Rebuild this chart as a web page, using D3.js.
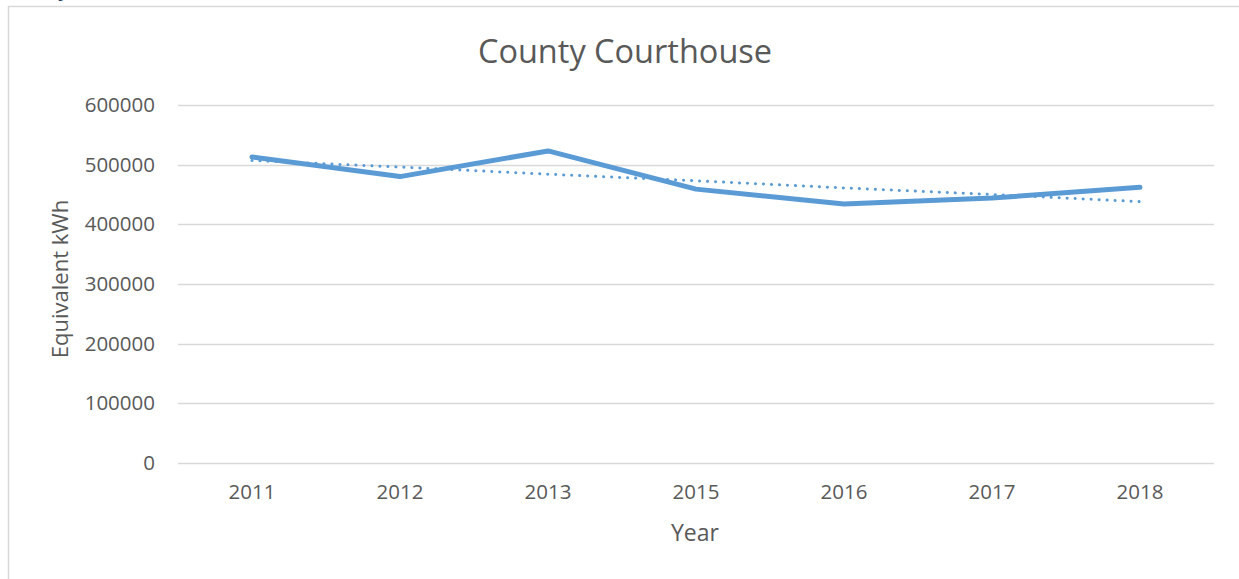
<html>
<head>
<meta charset="utf-8">
<title>County Courthouse</title>
<script src="https://cdn.jsdelivr.net/npm/d3@7"></script>
<style>
  body { margin: 0; background: #fff; }
  text { font-family: "Open Sans", Lato, sans-serif; fill: #595959; }
</style>
</head>
<body>
<script>
// data
var years = ["2011", "2012", "2013", "2015", "2016", "2017", "2018"];
var kwh = [513000, 480000, 523000, 459000, 434000, 444000, 462000];
var trend = [507000, 496000, 484000, 473000, 461000, 450000, 438000];
var yTicks = [0, 100000, 200000, 300000, 400000, 500000, 600000];

var W = 1239, H = 579;
var m = { left: 178, right: 25, top: 105, bottom: 116 };
var font = "'Open Sans', Lato, sans-serif";

var svg = d3.select("body").append("svg").attr("width", W).attr("height", H);

// frame of the chart object
svg.append("path")
   .attr("d", "M8.5," + H + " V6.5 H" + W)
   .attr("fill", "none").attr("stroke", "#d9d9d9").attr("stroke-width", 1.5);

// cut-off heading glyph at the top left
svg.append("text").attr("x", 58).attr("y", -4).text("y")
   .style("fill", "#1f3864").style("font-size", "20px").style("font-weight", "bold");

var x = d3.scaleBand().domain(years).range([m.left, W - m.right]);
var y = d3.scaleLinear().domain([0, 600000]).range([H - m.bottom, m.top]);

// gridlines
svg.append("g").selectAll("line").data(yTicks).enter().append("line")
   .attr("x1", m.left).attr("x2", W - m.right)
   .attr("y1", function(d) { return Math.round(y(d)) + 0.5; })
   .attr("y2", function(d) { return Math.round(y(d)) + 0.5; })
   .attr("stroke", "#d9d9d9").attr("stroke-width", 1.5);

// y axis labels
var yAxis = svg.append("g").attr("transform", "translate(" + (m.left - 23) + ",0)")
   .call(d3.axisLeft(y).tickValues(yTicks).tickSize(0).tickPadding(0).tickFormat(d3.format("d")));
yAxis.select(".domain").remove();
yAxis.selectAll("text").style("font-size", "20.5px").style("fill", "#595959")
     .style("font-family", font);

// x axis labels
var xAxis = svg.append("g").attr("transform", "translate(0," + (H - m.bottom) + ")")
   .call(d3.axisBottom(x).tickSize(0).tickPadding(21));
xAxis.select(".domain").remove();
xAxis.selectAll("text").style("font-size", "20.5px").style("fill", "#595959")
     .style("font-family", font);

// trendline (dotted)
var line = d3.line()
   .x(function(d, i) { return x(years[i]) + x.bandwidth() / 2; })
   .y(function(d) { return y(d); });

svg.append("path").datum(trend).attr("d", line)
   .attr("fill", "none").attr("stroke", "#5b9bd5").attr("stroke-width", 3)
   .attr("stroke-dasharray", "0.1 7.9").attr("stroke-linecap", "round");

// main series
svg.append("path").datum(kwh).attr("d", line)
   .attr("fill", "none").attr("stroke", "#5b9bd5").attr("stroke-width", 5)
   .attr("stroke-linecap", "round").attr("stroke-linejoin", "round");

// titles
svg.append("text").attr("x", 625).attr("y", 63).attr("text-anchor", "middle")
   .style("font-size", "32.5px").text("County Courthouse");
svg.append("text").attr("x", 695).attr("y", 541).attr("text-anchor", "middle")
   .style("font-size", "23px").text("Year");
svg.append("text").attr("transform", "translate(68,279) rotate(-90)").attr("text-anchor", "middle")
   .style("font-size", "22px").text("Equivalent kWh");
</script>
</body>
</html>
